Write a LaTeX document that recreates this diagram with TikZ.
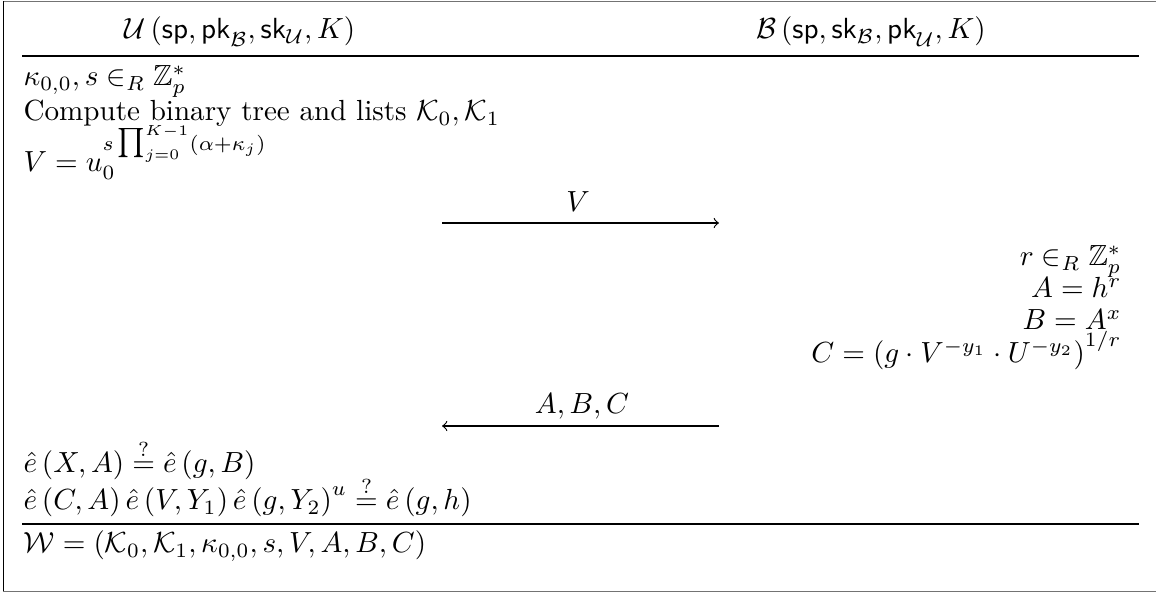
\documentclass[tikz,border=0pt]{standalone}
\usepackage{amsmath,amssymb}
\newcommand{\bigprodop}{\mathop{\hbox{$\textstyle\prod$}}\nolimits}
\begin{document}
\begin{tikzpicture}[x=0.3434pt,y=-0.3434pt,
  lt/.style={anchor=base west,inner sep=0pt},
  rt/.style={anchor=base east,inner sep=0pt},
  hd/.style={anchor=base,inner sep=0pt},
  rulel/.style={line width=0.4pt},
  msg/.style={->,line width=0.4pt},
  lbl/.style={anchor=base,inner sep=0pt}]
\useasboundingbox (0,0) rectangle (1156,593);
\draw[black!55,line width=0.6pt] (1160,1.5) -- (3.5,1.5) -- (3.5,591.5) -- (1160,591.5);
\draw[black,line width=0.5pt] (3.5,1.5) -- (3.5,591.5);
% headers
\node[hd] (hu) at (240,39) {$\mathcal{U}\left(\mathsf{sp}, \mathsf{pk}_{\mathcal{B}}, \mathsf{sk}_{\mathcal{U}}, K\right)$};
\node[hd] (hb) at (871,39) {$\mathcal{B}\left(\mathsf{sp}, \mathsf{sk}_{\mathcal{B}}, \mathsf{pk}_{\mathcal{U}}, K\right)$};
\coordinate (r1l) at (22,56);
\coordinate (r1r) at (1139,56);
\draw[rulel] (r1l) -- (r1r);
% user side
\node[lt] (u1) at (23,86) {$\kappa_{0,0}, s \in_R \mathbb{Z}_p^*$};
\node[lt] (u2) at (23,121) {Compute binary tree and lists $\mathcal{K}_0, \mathcal{K}_1$};
\node[lt] (u3) at (23,172) {$V = u_0^{s\bigprodop_{j=0}^{K-1}(\alpha+\kappa_j)}$};
% first message
\coordinate (m1a) at (442,223);
\coordinate (m1b) at (719,223);
\draw[msg] (m1a) -- (m1b);
\node[lbl] (m1l) at (578,212) {$V$};
% bank side
\node[rt] (b1) at (1122,266) {$r \in_R \mathbb{Z}_p^*$};
\node[rt] (b2) at (1122,298) {$A = h^r$};
\node[rt] (b3) at (1122,330) {$B = A^x$};
\node[rt] (b4) at (1122,363) {$C = \left(g \cdot V^{-y_1} \cdot U^{-y_2}\right)^{1/r}$};
% second message
\coordinate (m2a) at (719,426);
\coordinate (m2b) at (442,426);
\draw[msg] (m2a) -- (m2b);
\node[lbl] (m2l) at (582,414) {$A, B, C$};
% checks
\node[lt] (c1) at (23,473) {$\hat{e}\left(X, A\right) \stackrel{?}{=} \hat{e}\left(g, B\right)$};
\node[lt] (c2) at (23,510) {$\hat{e}\left(C, A\right)\hat{e}\left(V, Y_1\right)\hat{e}\left(g, Y_2\right)^u \stackrel{?}{=} \hat{e}\left(g, h\right)$};
\coordinate (r2l) at (22,524);
\coordinate (r2r) at (1139,524);
\draw[rulel] (r2l) -- (r2r);
\node[lt] (w) at (23,553) {$\mathcal{W} = \left(\mathcal{K}_0, \mathcal{K}_1, \kappa_{0,0}, s, V, A, B, C\right)$};
\end{tikzpicture}
\end{document}
